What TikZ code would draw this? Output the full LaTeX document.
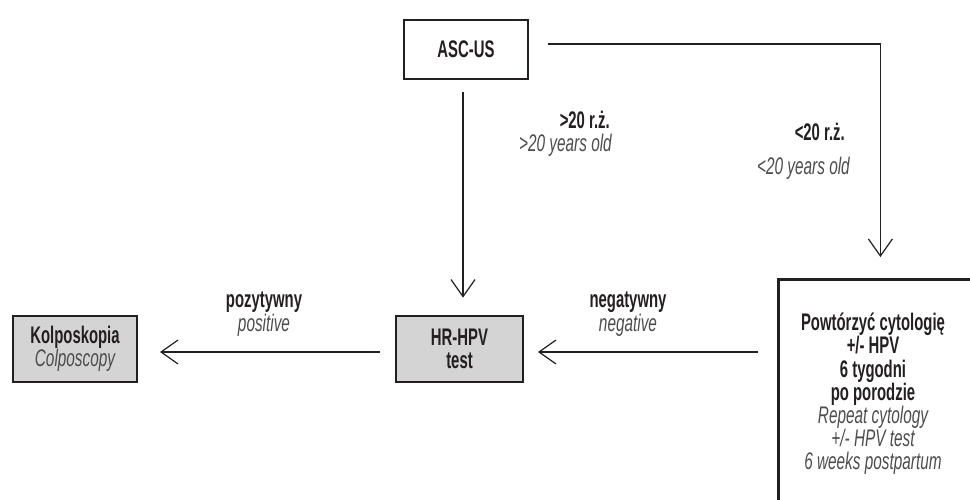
\documentclass[tikz,border=0pt]{standalone}
\usepackage{fontspec}
\setmainfont{Liberation Sans}[FakeStretch=0.64]
\newfontfamily\plfam{Liberation Sans}[FakeStretch=0.62]
\newfontfamily\enfam{Liberation Sans}[FakeStretch=0.64]
\usetikzlibrary{arrows.meta}
\definecolor{ink}{HTML}{231F20}
\definecolor{engray}{HTML}{4D4D4D}
\definecolor{boxgray}{HTML}{D4D4D4}
\newcommand\entxt[1]{{\color{engray}\enfam\mdseries\itshape #1}}
\begin{document}
\begin{tikzpicture}[x=1pt,y=-1pt,
  every node/.style={font=\fontsize{24}{23.2}\selectfont\plfam\bfseries},
  box/.style={draw=ink, line width=2.8pt, align=center, inner sep=0pt, text=ink},
  graybox/.style={box, fill=boxgray},
  conn/.style={draw=ink, line width=1.2pt, -{Straight Barb[length=17pt,width=24pt,line width=1.2pt]}},
  pl/.style={text=ink, inner sep=0pt},
  en/.style={text=engray, inner sep=0pt, font=\fontsize{24}{23.2}\selectfont\enfam\itshape},
]
\clip (0,0) rectangle (970,500);
\node[box, minimum width=124pt, minimum height=59pt] (asc) at (466,49.5) {ASC-US};
\node[graybox, minimum width=127pt, minimum height=66pt] (hpv) at (459.5,349) {HR-HPV\\test};
\node[graybox, minimum width=124pt, minimum height=66pt] (kolp) at (75,349) {Kolposkopia\\\entxt{Colposcopy}};
\node[box, anchor=north west, minimum width=204pt, minimum height=240pt] (rep) at (777,278) {};
\node[pl, align=center] (reptext) at (873,394) {Powtórzyć cytologię\\+/- HPV\\6 tygodni\\po porodzie\\\entxt{Repeat cytology}\\\entxt{+/- HPV test}\\\entxt{6 weeks postpartum}};

\node[pl, anchor=base east] (l20a) at (610,129) {>20 r.ż.};
\node[en, anchor=base east] (l20b) at (612,152) {>20 years old};
\node[pl, anchor=base east] (l20c) at (845,141) {<20 r.ż.};
\node[en, anchor=base east] (l20d) at (850,175) {<20 years old};
\node[pl, anchor=base] (lpos) at (264,307) {pozytywny};
\node[en, anchor=base] (lpos2) at (264,331) {positive};
\node[pl, anchor=base] (lneg) at (628,307) {negatywny};
\node[en, anchor=base] (lneg2) at (628,331) {negative};

\coordinate (hpvE) at ([yshift=-3pt]hpv.east);
\coordinate (hpvW) at ([yshift=-3pt]hpv.west);
\draw[conn, shorten <=18.6pt] ([yshift=5.5pt]asc.east) -| ([yshift=21pt]rep.north);
\draw[conn, shorten <=12pt, shorten >=17pt] ([xshift=-3pt]asc.south) -- ([xshift=-3pt]asc.south |- hpv.north);
\draw[conn, shorten <=18.6pt, shorten >=13.6pt] (rep.west |- hpvE) -- (hpvE);
\draw[conn, shorten <=14.6pt, shorten >=21.6pt] (hpvW) -- (hpvW -| kolp.east);
\end{tikzpicture}
\end{document}
